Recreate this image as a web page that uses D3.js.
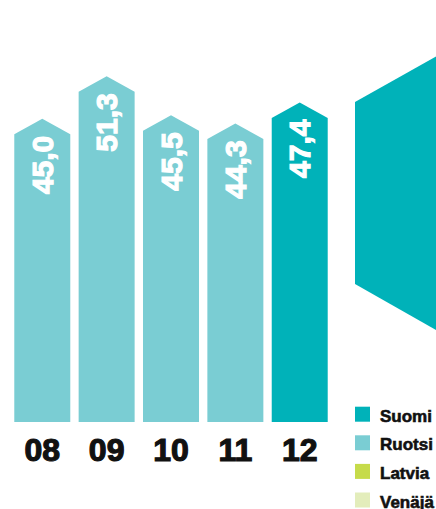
<!DOCTYPE html>
<html>
<head>
<meta charset="utf-8">
<script src="https://cdn.jsdelivr.net/npm/d3@7"></script>
<style>
  html, body { margin: 0; padding: 0; background: #fff; }
  svg { display: block; }
</style>
</head>
<body>
<svg id="chart" width="436" height="509"></svg>
<script>
const years = ["08", "09", "10", "11", "12"];
const values = [45.0, 51.3, 45.5, 44.3, 47.4];
const barCountry = ["Ruotsi", "Ruotsi", "Ruotsi", "Ruotsi", "Suomi"];
const legendLabels = ["Suomi", "Ruotsi", "Latvia", "Venäjä"];
const legendColors = ["#00b2b9", "#7acdd3", "#c6db4a", "#e3edbb"];

const color = d3.scaleOrdinal().domain(legendLabels).range(legendColors);
const svg = d3.select("#chart");
const W = 436, H = 509;

const baseY = 422;
const x = d3.scaleBand().domain(years).range([10.1, 331.9]).paddingInner(0.13).paddingOuter(0.065);
const y = d3.scaleLinear().domain([0, 60]).range([baseY, baseY - 6.74 * 60]);
const roof = 15.5;

const data = years.map((yr, i) => ({ yr, v: values[i], c: barCountry[i] }));

// Bars with pointed roof
svg.append("g").selectAll("path").data(data).join("path")
  .attr("d", d => {
    const x0 = x(d.yr), x1 = x0 + x.bandwidth(), cx = x0 + x.bandwidth() / 2;
    const peak = y(d.v), sh = peak + roof;
    return `M${x0},${baseY}L${x0},${sh}L${cx},${peak}L${x1},${sh}L${x1},${baseY}Z`;
  })
  .attr("fill", d => color(d.c));

// Value labels (rotated)
const fmt = v => d3.format(".1f")(v).replace(".", ",");
const vfs = 30;
svg.append("g").selectAll("text").data(data).join("text")
  .attr("transform", d => {
    const cx = x(d.yr) + x.bandwidth() / 2;
    const sh = y(d.v) + roof;
    return `translate(${cx + vfs * 0.716 / 2},${sh + 1.5}) rotate(-90)`;
  })
  .attr("text-anchor", "end")
  .attr("font-family", "Liberation Sans, Arial, sans-serif")
  .attr("font-weight", "bold")
  .attr("font-size", vfs)
  .attr("fill", "#fff")
  .attr("stroke", "#fff")
  .attr("stroke-width", 1.2)
  .text(d => fmt(d.v));

// Year labels
svg.append("g").selectAll("text").data(years).join("text")
  .attr("x", d => x(d) + x.bandwidth() / 2)
  .attr("y", 460.5)
  .attr("text-anchor", "middle")
  .attr("font-family", "Liberation Sans, Arial, sans-serif")
  .attr("font-weight", "bold")
  .attr("font-size", 32)
  .attr("fill", "#111")
  .attr("stroke", "#111")
  .attr("stroke-width", 1.2)
  .text(d => d);

// Decorative shape on the right (start of next graphic, cut at the edge)
const sx = 355;
svg.append("path")
  .attr("d", `M${sx},102L${W},56.5L${W},330L${sx},284Z`)
  .attr("fill", color("Suomi"));

// Legend
const lg = svg.append("g").attr("transform", "translate(355,406.7)");
const items = lg.selectAll("g").data(legendLabels).join("g")
  .attr("transform", (d, i) => `translate(0,${i * 28.6})`);
items.append("rect").attr("width", 15).attr("height", 15).attr("fill", d => color(d));
items.append("text")
  .attr("x", 25).attr("y", 15)
  .attr("font-family", "Liberation Sans, Arial, sans-serif")
  .attr("font-weight", "bold")
  .attr("font-size", 17)
  .attr("fill", "#111")
  .attr("stroke", "#111")
  .attr("stroke-width", 0.6)
  .text(d => d);
</script>
</body>
</html>
